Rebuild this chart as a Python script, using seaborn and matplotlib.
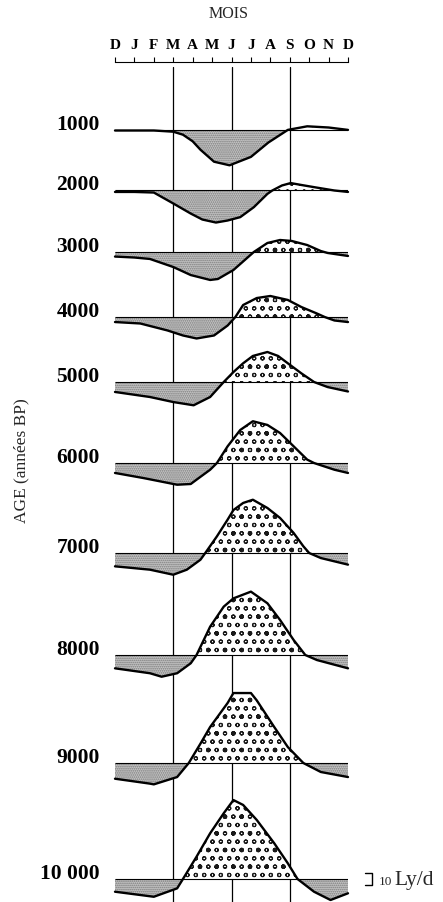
import numpy as np
import pandas as pd
import matplotlib
matplotlib.use("Agg")
import matplotlib.pyplot as plt
import seaborn as sns

# ---------------- data (insolation anomaly, Ly/d) ----------------
month_labels = ["D", "J", "F", "M", "A", "M", "J", "J", "A", "S", "O", "N", "D"]
age_labels = ["1000", "2000", "3000", "4000", "5000", "6000", "7000", "8000", "9000", "10 000"]

m_1000 = [0, 1, 2, 3, 3.5, 4, 4.4, 5.1, 5.9, 7, 7.9, 8.9, 9.9, 11, 12]
v_1000 = [0, 0, 0, -1, -3.5, -9, -16, -26, -29, -22, -10, 0.5, 3.5, 2.5, 0.5]

m_2000 = [0, 1, 2, 3, 3.9, 4.5, 5.2, 5.8, 6.45, 7.15, 7.85, 8.1, 8.6, 9.05, 9.6, 10.25, 11.3, 12]
v_2000 = [-1.2, -1.2, -1.7, -10.8, -19.2, -24.2, -26.7, -25, -22.2, -13.9, -2.8, 0, 4.2, 6.2, 4.6, 2.8, 0, -1.2]

m_3000 = [0, 1, 1.8, 3, 3.9, 4.9, 5.3, 6.1, 6.8, 7.15, 7.85, 8.5, 9.1, 9.9, 10.6, 10.95, 12]
v_3000 = [-3.8, -4.6, -5.8, -12.5, -19.2, -23.3, -22.5, -15, -5, 0, 7.5, 10, 9.2, 5.8, 0.8, -0.8, -3.3]

m_4000 = [0, 1.3, 2.7, 3.5, 4.2, 5.1, 5.8, 6.2, 6.6, 7.3, 8.0, 8.9, 9.6, 10.4, 10.8, 11.3, 12]
v_4000 = [-4.2, -5.4, -11.2, -15.4, -17.9, -15.4, -7.1, 0, 10, 15.8, 17.5, 14.2, 8.3, 2.9, 0, -2.9, -4.2]

m_5000 = [0, 1.8, 3, 4.05, 4.9, 5.6, 6.1, 6.6, 7.1, 7.85, 8.4, 8.9, 9.6, 10.25, 10.95, 12]
v_5000 = [-8.3, -12.5, -16.7, -19.4, -12.5, 0, 8.3, 15.6, 21.7, 25, 21.7, 15.6, 7.2, 0, -4.2, -7.9]

m_6000 = [0, 1.45, 3.2, 3.9, 4.2, 4.9, 5.25, 5.8, 6.45, 7.1, 7.85, 8.5, 9.2, 9.9, 10.25, 11.3, 12]
v_6000 = [-8.3, -12.5, -18.1, -17.5, -13.9, -5.6, 0, 13.9, 27.5, 34.8, 31.7, 25, 13.9, 2.8, 0, -5.6, -8.3]

m_7000 = [0, 1.8, 3, 3.7, 4.4, 4.65, 5.25, 5.8, 6.1, 6.6, 7.1, 7.85, 8.5, 9.2, 9.7, 10.0, 10.6, 12]
v_7000 = [-11.1, -13.9, -18.1, -13.9, -5.6, 0, 13.9, 27.8, 35.8, 41.7, 44.4, 37.5, 29.2, 16.7, 5.6, 0, -4.2, -9.7]

m_8000 = [0, 1.8, 2.4, 3.2, 3.9, 4.2, 4.9, 5.6, 6.1, 7.0, 7.85, 8.5, 9.2, 9.8, 10.4, 12]
v_8000 = [-11.1, -15.2, -18.1, -15.2, -6.9, 0, 23.6, 40.3, 47.2, 52.8, 43.1, 29.2, 12.5, 0, -4.2, -11.1]

m_9000 = [0, 1.8, 2.0, 3.2, 3.8, 4.4, 4.9, 5.8, 6.1, 7.0, 7.3, 8.2, 8.9, 9.7, 10.6, 12]
v_9000 = [-13.1, -17.2, -17.8, -11.7, 0, 16.1, 30, 50, 58.3, 58.3, 52.2, 30, 13.3, 0, -7.5, -11.7]

m_10000 = [0, 2.0, 3.2, 3.5, 4.2, 4.9, 5.6, 6.1, 6.6, 7.3, 8.2, 8.9, 9.4, 10.25, 11.1, 12]
v_10000 = [-10.6, -14.8, -7.8, 0, 18.6, 38.1, 54.8, 65.8, 61.7, 49.2, 29.8, 13.1, 0, -10.6, -17.5, -11.9]

guide_months = [3, 6, 9]          # M, J, S reference lines
scale_value = 10                  # Ly/d scale bar

series = [(m_1000, v_1000), (m_2000, v_2000), (m_3000, v_3000), (m_4000, v_4000),
          (m_5000, v_5000), (m_6000, v_6000), (m_7000, v_7000), (m_8000, v_8000),
          (m_9000, v_9000), (m_10000, v_10000)]

# ---------------- layout ----------------
W, H = 443, 902
PX_PER_UNIT = 1.2                                   # pixels per Ly/d
row_px = [130.5, 190.5, 252, 317, 382, 463, 553, 655, 763, 879]   # row baselines (px from top)
AX_LEFT, AX_RIGHT, AX_TOP = 115, 348, 62
PX_PER_MONTH = (AX_RIGHT - AX_LEFT) / 12

sns.set_theme(style="white")
plt.rcParams["font.family"] = ["Liberation Serif", "DejaVu Serif"]
plt.rcParams["hatch.linewidth"] = 0.8

fig = plt.figure(figsize=(W / 100, H / 100), dpi=100)
ax = fig.add_axes([AX_LEFT / W, 0, (AX_RIGHT - AX_LEFT) / W, (H - AX_TOP) / H])
ax.set_xlim(0, 12)
ax.set_ylim(-H / PX_PER_UNIT, -AX_TOP / PX_PER_UNIT)

offsets = [-p / PX_PER_UNIT for p in row_px]

for gm in guide_months:
    ax.axvline(gm, ymin=0, ymax=1 - 5 / (H - AX_TOP), color="black", lw=0.9, zorder=1)

for (mm, vv), off in zip(series, offsets):
    mm = np.asarray(mm, float)
    vv = np.asarray(vv, float)
    y = off + vv
    ax.fill_between(mm, off, y, where=vv <= 0, interpolate=True,
                    facecolor="#c4c4c4", edgecolor="#7a7a7a", hatch="........", lw=0, zorder=2)
    ax.fill_between(mm, off, y, where=vv >= 0, interpolate=True,
                    facecolor="white", edgecolor="#1a1a1a", hatch="oo.", lw=0, zorder=2)
    ax.hlines(off, 0, 12, color="black", lw=0.8, zorder=3)
    df = pd.DataFrame({"month": mm, "y": y})
    sns.lineplot(data=df, x="month", y="y", ax=ax, color="black", lw=1.7,
                 sort=False, estimator=None, zorder=4, clip_on=False)

# top month axis
ax.xaxis.tick_top()
ax.set_xticks(range(len(month_labels)))
ax.set_xticklabels(month_labels, fontweight="bold")
ax.tick_params(axis="x", top=True, bottom=False, direction="out", length=3.5, width=0.8,
               pad=4, labelsize=11, colors="black")
ax.set_xlabel("")
ax.set_ylabel("")

# age labels on y
ax.set_yticks(offsets)
ax.set_yticklabels(age_labels, fontweight="bold")
ax.tick_params(axis="y", left=False, length=0, pad=11, labelsize=15.5, colors="black")
for lab in ax.get_yticklabels():
    lab.set_va("baseline")

for s in ["left", "right", "bottom"]:
    ax.spines[s].set_visible(False)
ax.spines["top"].set_linewidth(0.8)
ax.spines["top"].set_color("black")
ax.grid(False)

# scale bar 10 Ly/d
off_last = offsets[-1]
xb0 = 12 + (365 - AX_RIGHT) / PX_PER_MONTH
xb1 = 12 + (372 - AX_RIGHT) / PX_PER_MONTH
ax.plot([xb0, xb1, xb1, xb0], [off_last + scale_value / 2, off_last + scale_value / 2,
                               off_last - scale_value / 2, off_last - scale_value / 2],
        color="black", lw=1.0, clip_on=False)
ax.text(12 + (379 - AX_RIGHT) / PX_PER_MONTH, off_last - scale_value / 2, "10",
        fontsize=9.5, va="baseline", ha="left")
ax.text(12 + (394 - AX_RIGHT) / PX_PER_MONTH, off_last - scale_value / 2, "Ly/d",
        fontsize=15.5, va="baseline", ha="left")

fig.text(229 / W, 1 - 14 / H, "MOIS", ha="center", va="center", fontsize=11.5)
fig.text(21 / W, 1 - 461 / H, "AGE (années BP)", ha="center", va="center", rotation=90, fontsize=12.5)

fig.savefig("out.png", dpi=100)
